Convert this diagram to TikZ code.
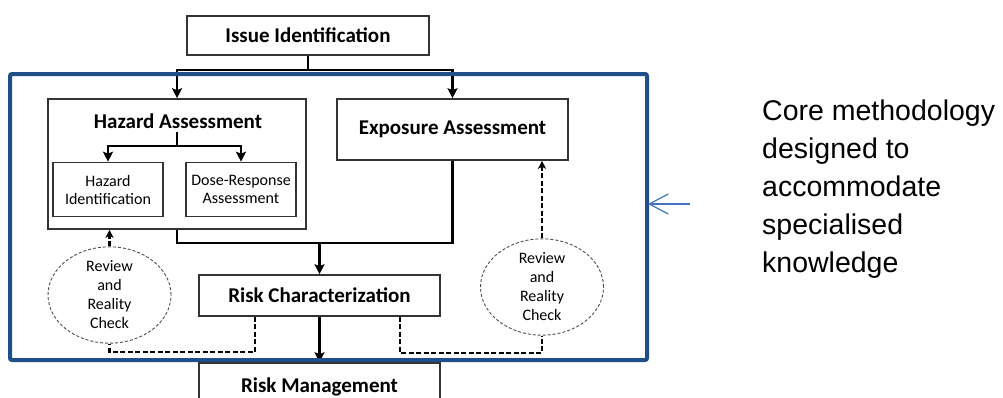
\documentclass[tikz,border=0pt]{standalone}
\usepackage{fontspec}
\setmainfont{Carlito}
\newfontfamily\notefont{Liberation Sans}
\usetikzlibrary{arrows.meta,shapes.geometric}
\colorlet{frame}{black!80}
\definecolor{coreblue}{RGB}{31,78,137}
\definecolor{pointblue}{RGB}{68,114,196}

\tikzset{
  stage/.style={draw=frame,line width=1.6pt,rectangle,inner sep=0pt,
    font=\fontsize{21}{24}\selectfont\bfseries},
  substage/.style={draw=frame,line width=1.6pt,rectangle,inner sep=0pt,
    minimum width=110,minimum height=54,align=center,
    font=\fontsize{16}{18}\selectfont},
  check/.style={draw=black!70,densely dashed,line width=0.9pt,ellipse,inner sep=0pt,
    minimum width=123,minimum height=86,align=center,
    font=\fontsize{16}{19}\selectfont},
  flow/.style={line width=2.6pt,-{Stealth[length=10pt,width=10pt,inset=2pt]}},
  link/.style={line width=2.6pt},
  recheck/.style={line width=2.8pt,dash pattern=on 5pt off 2.5pt}
}

\begin{document}
\begin{tikzpicture}[x=1pt,y=-1pt]
  \useasboundingbox (0,0) rectangle (1003,397);
  \clip (0,0) rectangle (1003,397);

  % boxes
  \node[stage,minimum width=242,minimum height=39] (issue) at (308,35.5) {Issue Identification};
  \node[stage,minimum width=258,minimum height=130] (hazbox) at (177,164) {};
  \node[font=\fontsize{21}{24}\selectfont\bfseries] (haztitle) at (178,121) {Hazard Assessment};
  \node[substage] (hazid) at (108,189.5) {Hazard\\Identification};
  \node[substage] (dose) at (241,189.5) {Dose-Response\\Assessment};
  \node[stage,minimum width=231,minimum height=61] (expo) at (452.5,129.5) {Exposure Assessment};
  \node[stage,minimum width=241,minimum height=41] (riskc) at (319.5,295.5) {Risk Characterization};
  \node[stage,minimum width=241,minimum height=48,text depth=0pt] (riskm) at (319.5,387) {\raisebox{4pt}{Risk Management}};
  \node[check] (leftchk) at (109.5,295) {Review\\and\\Reality\\Check};
  \node[check] (rightchk) at (542,287) {Review\\and\\Reality\\Check};

  \coordinate (split) at (308,70);
  \coordinate (subsplit) at (177,146);
  \coordinate (join) at (319.5,243);

  % solid flow
  \draw[link] (issue) -- (split);
  \draw[flow] (split) -| (hazbox);
  \draw[flow] (split) -| (expo);
  \draw[link] (haztitle.south -| subsplit) -- (subsplit);
  \draw[flow] (subsplit) -| (hazid);
  \draw[flow] (subsplit) -| (dose);
  \draw[link] (expo) |- (join) -| (hazbox);
  \draw[flow] (join) -- (riskc);
  \draw[flow] (riskc) -- (riskm);

  % review loops
  \draw[recheck] (riskc.south -| 255,0) |- (0,352 -| leftchk) -- (leftchk);
  \draw[recheck,-{Stealth[length=8pt,width=8pt,inset=2pt]}] (leftchk) -- (hazbox.south -| leftchk);
  \draw[recheck] (riskc.south -| 400,0) |- (0,353 -| rightchk) -- (rightchk);
  \draw[recheck,-{Stealth[length=8pt,width=8pt,inset=2pt]}] (rightchk) -- (expo.south -| rightchk);

  % core frame
  \draw[coreblue,line width=4pt,rounded corners=2pt] (10,74) rectangle (647,360);
  \coordinate (tail) at (690,204);
  \draw[pointblue,line width=1.2pt,-{Straight Barb[length=19pt,width=20pt,line width=1.2pt]}] (tail) -- (648,204);

  \node[anchor=north west,align=left,inner sep=0pt,font=\notefont\fontsize{28.5}{38}\selectfont] (note) at (762,100)
    {Core methodology\\designed to\\accommodate\\specialised\\knowledge};
\end{tikzpicture}
\end{document}
